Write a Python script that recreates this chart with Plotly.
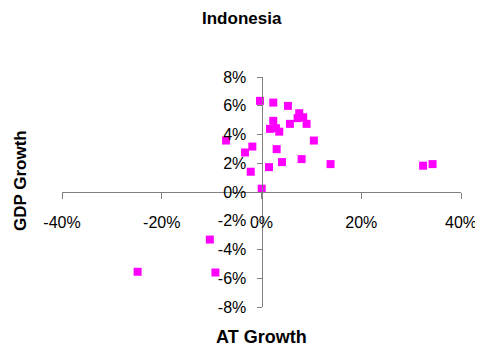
import plotly.graph_objects as go

at_growth = [-0.3, 2.36, 5.3, 7.56, 8.36, 7.24, 9.04, 5.7, 2.36, 1.7, 2.9, 3.56, 10.5, -7.1,
             -1.84, -3.3, 3.04, 4.1, 1.5, 8.04, 13.84, -2.16, 0.04, 32.4, 34.3, -10.36, -24.84, -9.24]
gdp_growth = [6.34, 6.22, 5.99, 5.48, 5.2, 5.14, 4.74, 4.74, 4.95, 4.39, 4.44, 4.2, 3.58, 3.58,
              3.16, 2.75, 2.98, 2.08, 1.73, 2.29, 1.94, 1.41, 0.23, 1.83, 1.94, -3.31, -5.55, -5.6]

x_ticks = [-40, -20, 0, 20, 40]
x_labels = ["-40%", "-20%", "0%", "20%", "40%"]
y_ticks = [-8, -6, -4, -2, 0, 2, 4, 6, 8]
y_labels = ["-8%", "-6%", "-4%", "-2%", "0%", "2%", "4%", "6%", "8%"]

font = "Liberation Sans, Arial, sans-serif"

# page body has an 8px default margin; figure coordinates are page coordinates minus 8
OFF = 8
W, H = 483 - OFF, 354 - OFF
L, T = 62 - OFF, 77 - OFF
R = W - (461 - OFF)
B = H - (307 - OFF)
PW, PH = W - L - R, H - T - B


def py(page_y):
    # paper y for a page pixel row
    fy = page_y - OFF
    return (T + PH - fy) / PH


def px(page_x):
    fx = page_x - OFF
    return (fx - L) / PW


fig = go.Figure(go.Scatter(
    x=at_growth, y=gdp_growth, mode="markers",
    marker=dict(symbol="square", size=8, color="#FF00FF", line=dict(width=0)),
))

fig.update_layout(
    width=W, height=H,
    margin=dict(l=L, r=R, t=T, b=B, autoexpand=False),
    paper_bgcolor="white", plot_bgcolor="white",
    showlegend=False,
    font=dict(family=font, size=16, color="black"),
    xaxis=dict(range=[-40, 40], tickvals=x_ticks, ticktext=x_labels, automargin=False,
               showgrid=False, zeroline=False, showline=True, linecolor="#808080", linewidth=1,
               ticks="outside", ticklen=6, tickcolor="#808080", anchor="free", position=0.5,
               ticklabelstandoff=10, tickfont=dict(size=16)),
    yaxis=dict(range=[-8, 8], tickvals=y_ticks, ticktext=y_labels, automargin=False,
               showgrid=False, zeroline=False, showline=True, linecolor="#808080", linewidth=1,
               ticks="outside", ticklen=5, tickcolor="#808080", anchor="free", position=0.5,
               ticklabelstandoff=7, tickfont=dict(size=16)),
    annotations=[
        dict(text="<b>Indonesia</b>", xref="paper", yref="paper",
             x=px(241.5), y=py(19),
             showarrow=False, font=dict(size=17), xanchor="center", yanchor="middle"),
        dict(text="<b>AT Growth</b>", xref="paper", yref="paper",
             x=px(261.5), y=py(337),
             showarrow=False, font=dict(size=18), xanchor="center", yanchor="middle"),
        dict(text="<b>GDP Growth</b>", xref="paper", yref="paper",
             x=px(20), y=py(181),
             showarrow=False, font=dict(size=17), xanchor="center", yanchor="middle", textangle=-90),
    ],
)

fig.write_html("out.html")
